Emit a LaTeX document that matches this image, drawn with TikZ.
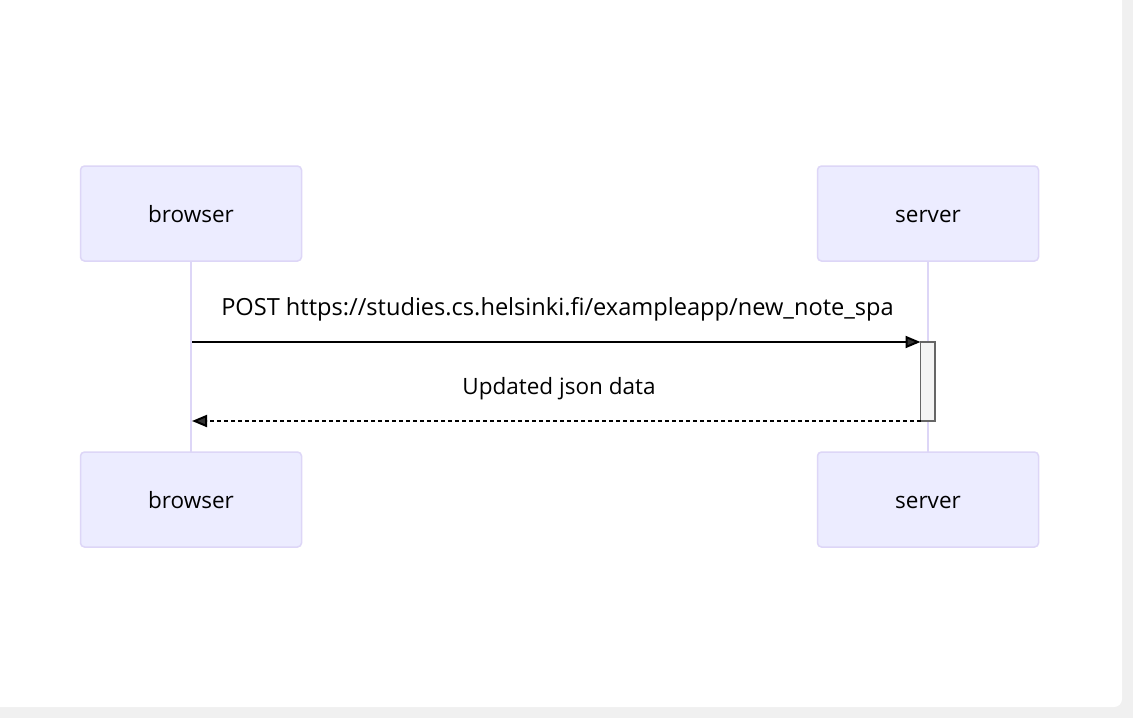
\documentclass[tikz,border=0pt]{standalone}
\usepackage{fontspec}
\setmainfont{Open Sans}
\usetikzlibrary{arrows.meta,positioning}

\definecolor{actorfill}{RGB}{236,236,255}
\definecolor{actorline}{RGB}{221,214,247}
\definecolor{msgline}{RGB}{51,51,51}
\definecolor{actfill}{RGB}{244,244,244}
\definecolor{actline}{RGB}{102,102,102}
\definecolor{pagegray}{RGB}{240,240,240}

\begin{document}
\begin{tikzpicture}[x=1pt,y=-1pt,font=\fontsize{22.5}{26}\selectfont,
    actor/.style={draw=actorline,fill=actorfill,line width=1.5pt,rounded corners=4pt,
        minimum width=221pt,minimum height=95pt,inner sep=0pt},
    label/.style={anchor=base,inner sep=0pt},
    lifeline/.style={draw=actorline,line width=2.5pt},
    msg/.style={draw=black,line width=2pt,-{Triangle[length=15pt,width=12pt,fill=msgline]}},
    reply/.style={msg,dash pattern=on 4pt off 3pt}]

    % Page background
    \useasboundingbox (0,0) rectangle (1133,718);
    \fill [pagegray] (0,0) rectangle (1133,718);
    \fill [white] (0,0) -- (1122,0) [rounded corners=8pt] -- (1122,707) [sharp corners] -- (0,707) -- cycle;

    % Lifelines
    \coordinate (bl top) at (191,261);
    \coordinate (bl bot) at (191,452);
    \coordinate (sl top) at (928,261);
    \coordinate (sl bot) at (928,452);
    \draw [lifeline] (bl top) -- (bl bot);
    \draw [lifeline] (sl top) -- (sl bot);

    % Actors
    \node [actor] (browser top) at (191,213.5) {};
    \node [actor] (server top) at (928,213.5) {};
    \node [actor] (browser bot) at (191,499.5) {};
    \node [actor] (server bot) at (928,499.5) {};
    \node [label] (browser top text) at (191,222) {browser};
    \node [label] (server top text) at (928,222) {server};
    \node [label] (browser bot text) at (191,508) {browser};
    \node [label] (server bot text) at (928,508) {server};

    % Activation on server
    \draw [fill=actfill,draw=actline,line width=1.2pt] (920.5,342) rectangle (935,421);
    \coordinate (act in) at (920.5,342);
    \coordinate (act out) at (920.5,421);
    \coordinate (b in) at (192,342);
    \coordinate (b out) at (192,421);

    % Messages
    \draw [msg] (b in) -- (act in);
    \node [label,font=\fontsize{23.6}{27}\selectfont] (post) at (557.5,315)
        {POST https://studies.cs.helsinki.fi/exampleapp/new\_note\_spa};
    \draw [reply] (act out) -- (b out);
    \node [label] (json) at (559,394) {Updated json data};

\end{tikzpicture}
\end{document}
